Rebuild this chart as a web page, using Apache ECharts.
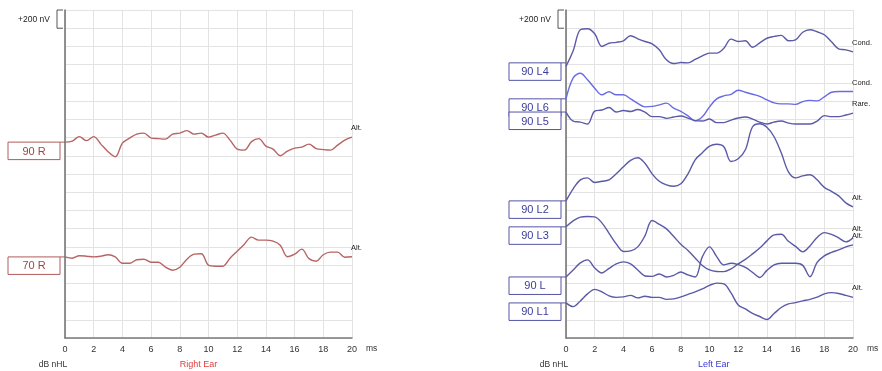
<!DOCTYPE html>
<html>
<head>
<meta charset="utf-8">
<script src="https://cdn.jsdelivr.net/npm/echarts@6/dist/echarts.min.js"></script>
<style>
  html, body { margin: 0; padding: 0; background: #fff; }
  #chart { width: 882px; height: 371px; }
</style>
</head>
<body>
<div id="chart"></div>
<script>
// Sweep time base (ms)
const timeMs = [0,0.5,1,1.5,2,2.5,3,3.5,4,4.5,5,5.5,6,6.5,7,7.5,8,8.5,9,9.5,10,
                10.5,11,11.5,12,12.5,13,13.5,14,14.5,15,15.5,16,16.5,17,17.5,18,18.5,19,19.5,20];
const xTicks = [0,2,4,6,8,10,12,14,16,18,20];

// Right ear: labels, polarity tags, trace offsets (nV) and waveforms (nV, relative to offset)
const rightLabels = ['90 R', '70 R'];
const rightTags = ['Alt.', 'Alt.'];
const rightBase = [2150, 890];
const r90 = [0,11,60,16,60,-22,-105,-160,-11,44,88,99,44,38,33,88,99,126,88,99,55,77,99,22,-77,-88,5,38,-44,-77,-149,-99,-66,-55,-22,-71,-82,-88,-33,22,55];
const r70 = [0,-14,13,8,0,8,24,0,-70,-70,-31,-25,-58,-58,-113,-146,-113,-25,30,35,-91,-102,-102,-14,63,140,217,184,184,173,129,2,30,85,-19,-47,24,52,52,-3,2];

// Left ear
const leftLabels = ['90 L4', '90 L6', '90 L5', '90 L2', '90 L3', '90 L', '90 L1'];
const leftTags = ['Cond.', 'Cond.', 'Rare.', 'Alt.', 'Alt.', 'Alt.', 'Alt.'];
const leftBase = [3020, 2625, 2480, 1505, 1220, 670, 385];
const l4 = [-40,132,363,374,319,180,215,225,242,297,264,234,209,143,33,-8,3,0,38,77,107,107,160,260,234,242,171,220,270,290,302,242,253,336,363,341,308,231,154,143,121];
const l6 = [0,231,281,209,117,44,77,44,44,0,-50,-88,-83,-66,-47,-102,-138,-187,-242,-198,-88,0,33,50,94,72,50,28,-11,-44,-55,-55,-61,-30,-17,-22,22,72,80,80,80];
const l5 = [0,-99,-110,-132,11,22,50,0,17,6,28,0,-50,-50,-69,-55,-44,-66,-94,-99,-77,-116,-116,-88,-66,-55,-77,-110,-132,-110,-99,-121,-132,-132,-132,-99,-39,-50,-50,-33,-11];
const l2 = [0,132,231,253,201,215,231,297,374,445,473,413,297,215,176,160,187,297,451,528,600,622,594,432,462,561,814,847,808,704,528,319,253,275,286,231,148,104,55,-22,-66];
const l3 = [0,66,107,113,110,44,-71,-187,-270,-264,-220,-99,69,28,-22,-104,-192,-259,-341,-424,-473,-490,-492,-462,-407,-357,-297,-233,-154,-88,-82,-159,-214,-275,-209,-116,-63,-82,-121,-165,-121];
const lMain = [0,77,154,187,99,44,94,143,165,143,77,11,6,33,0,17,55,22,0,220,330,223,132,150,135,104,50,-6,72,132,150,150,150,127,3,159,231,269,297,330,352];
const l1 = [0,-41,22,99,149,121,77,61,66,83,55,74,61,61,39,44,66,94,121,154,193,217,209,110,-22,-66,-116,-149,-182,-116,-50,-11,3,22,39,63,99,113,104,83,61];

const scaleBar = 200;      // nV calibration bar
const yMax = 3600;

const FONT = '"Liberation Sans", Arial, Helvetica, sans-serif';
const RED = '#b86464', RED_TXT = '#9e4444';
const BLUE = '#5a5aa8', BLUE_BRIGHT = '#6a6ae4', BLUE_TXT = '#3c3c9e';

const panels = [
  { labels: rightLabels, tags: rightTags, base: rightBase, waves: [r90, r70],
    colors: [RED, RED], boxStroke: '#b05c5c', boxText: RED_TXT,
    title: 'Right Ear', titleColor: '#de4040', titleAt: 9.3 },
  { labels: leftLabels, tags: leftTags, base: leftBase, waves: [l4, l6, l5, l2, l3, lMain, l1],
    colors: [BLUE, BLUE_BRIGHT, BLUE, BLUE, BLUE, BLUE, BLUE], boxStroke: '#5454a4', boxText: BLUE_TXT,
    title: 'Left Ear', titleColor: '#3a3ad4', titleAt: 10.3 }
];

const chart = echarts.init(document.getElementById('chart'), null, { renderer: 'canvas' });

const grids = [
  { left: 65, top: 10, width: 287, height: 328 },
  { left: 566, top: 10, width: 287, height: 328 }
];

const xAxes = grids.map((g, i) => ({
  gridIndex: i, type: 'value', min: 0, max: 20, interval: 2,
  axisLine: { show: true, lineStyle: { color: '#7a7a7a', width: 1.5 } },
  axisTick: { show: false },
  axisLabel: { fontSize: 9, color: '#333', margin: 7, fontFamily: FONT,
               formatter: v => (xTicks.includes(v) ? String(v) : '') },
  splitLine: { show: true, lineStyle: { color: '#e3e3e3', width: 1 } }
}));

const yAxes = grids.map((g, i) => ({
  gridIndex: i, type: 'value', min: 0, max: yMax, interval: scaleBar,
  axisLine: { show: true, onZero: false, lineStyle: { color: '#6e6e6e', width: 1.5 } },
  axisTick: { show: false },
  axisLabel: { show: false },
  splitLine: { show: true, lineStyle: { color: '#e3e3e3', width: 1 } }
}));

const series = [];
panels.forEach((p, pi) => {
  p.waves.forEach((w, k) => {
    series.push({
      type: 'line', name: p.labels[k], xAxisIndex: pi, yAxisIndex: pi,
      data: timeMs.map((t, j) => [t, p.base[k] + w[j]]),
      showSymbol: false, symbol: 'none', smooth: 0.35, silent: true,
      lineStyle: { color: p.colors[k], width: 1.4 }, z: 3
    });
  });
});

chart.setOption({
  animation: false,
  backgroundColor: '#fff',
  grid: grids, xAxis: xAxes, yAxis: yAxes, series: series
});

// Annotations positioned through the axes' own scales
const graphics = [];
panels.forEach((p, pi) => {
  const P = (t, v) => chart.convertToPixel({ gridIndex: pi }, [t, v]);
  const top = P(0, yMax), barEnd = P(0, yMax - scaleBar);
  const ax = top[0];

  // calibration bracket + label
  graphics.push({ type: 'polyline', silent: true,
    shape: { points: [[ax - 2, top[1]], [ax - 8, top[1]], [ax - 8, barEnd[1]], [ax - 2, barEnd[1]]] },
    style: { stroke: '#555', lineWidth: 1, fill: null } });
  graphics.push({ type: 'text', silent: true,
    style: { text: '+' + scaleBar + ' nV', x: ax - 15, y: (top[1] + barEnd[1]) / 2 + 1,
             font: '8.5px ' + FONT, fill: '#222', textAlign: 'right', textVerticalAlign: 'middle' } });

  // axis captions
  const x20 = P(20, 0);
  graphics.push({ type: 'text', silent: true,
    style: { text: 'ms', x: x20[0] + 14, y: x20[1] + 11, font: '8.5px ' + FONT, fill: '#333',
             textAlign: 'left', textVerticalAlign: 'middle' } });
  graphics.push({ type: 'text', silent: true,
    style: { text: 'dB nHL', x: ax - 12, y: x20[1] + 27, font: '8.5px ' + FONT, fill: '#333',
             textAlign: 'center', textVerticalAlign: 'middle' } });
  const tt = P(p.titleAt, 0);
  graphics.push({ type: 'text', silent: true,
    style: { text: p.title, x: tt[0], y: tt[1] + 27, font: '9px ' + FONT, fill: p.titleColor,
             textAlign: 'center', textVerticalAlign: 'middle' } });

  // trace label boxes and polarity tags
  p.labels.forEach((lab, k) => {
    const s = P(0, p.base[k]);
    graphics.push({ type: 'rect', silent: true,
      shape: { x: ax - 57, y: s[1], width: 52, height: 17.5 },
      style: { fill: '#fff', stroke: p.boxStroke, lineWidth: 1 } });
    graphics.push({ type: 'line', silent: true,
      shape: { x1: ax - 5, y1: s[1], x2: ax, y2: s[1] },
      style: { stroke: p.boxStroke, lineWidth: 1 } });
    graphics.push({ type: 'text', silent: true,
      style: { text: lab, x: ax - 31, y: s[1] + 9.5, font: '11px ' + FONT, fill: p.boxText,
               textAlign: 'center', textVerticalAlign: 'middle' } });
    const w = p.waves[k];
    const e = P(timeMs[timeMs.length - 1], p.base[k] + w[w.length - 1]);
    graphics.push({ type: 'text', silent: true,
      style: { text: p.tags[k], x: e[0] - 1, y: e[1] - 9, font: '7.5px ' + FONT, fill: '#222',
               textAlign: 'left', textVerticalAlign: 'middle' } });
  });
});

chart.setOption({ graphic: { elements: graphics } });
</script>
</body>
</html>
